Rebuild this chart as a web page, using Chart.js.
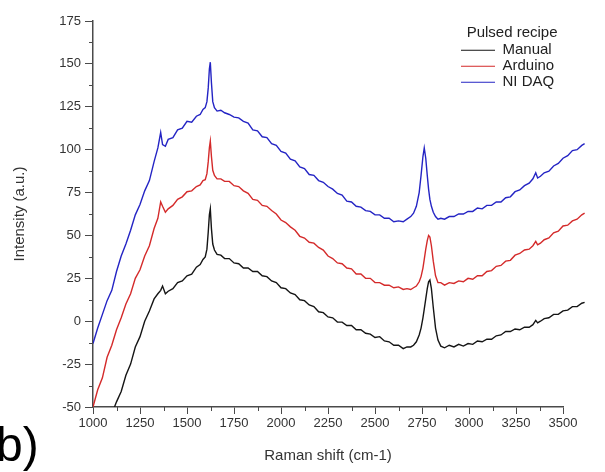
<!DOCTYPE html>
<html><head><meta charset="utf-8">
<script src="https://cdn.jsdelivr.net/npm/chart.js@4/dist/chart.umd.min.js"></script>
<style>
html,body{margin:0;padding:0;background:#fff;}
#wrap{position:relative;width:605px;height:472px;overflow:hidden;}
#panel{position:absolute;left:-4px;top:421px;font:48px "Liberation Sans",Arial,sans-serif;color:#000;line-height:1;}
</style></head><body>
<div id="wrap"><canvas id="c" width="605" height="472"></canvas><div id="panel">b)</div></div>
<script>
// Raman shift (cm-1), shared by the three spectra
const ramanShift = [
  1000,1025,1050,1075,1100,1125,1150,1175,1200,1225,
  1250,1275,1300,1325,1345,1360,1370,1385,1400,1425,
  1450,1475,1500,1525,1550,1570,1585,1597,1606,1613,
  1619,1624,1630,1637,1646,1660,1680,1700,1725,1750,
  1775,1800,1825,1850,1875,1900,1925,1950,1975,2000,
  2025,2050,2075,2100,2125,2150,2175,2200,2225,2250,
  2275,2300,2325,2350,2375,2400,2425,2450,2475,2500,
  2525,2550,2575,2600,2625,2650,2670,2690,2705,2720,
  2735,2745,2755,2762,2770,2778,2785,2792,2800,2810,
  2822,2835,2850,2870,2895,2920,2945,2970,2995,3020,
  3045,3070,3095,3120,3145,3170,3195,3220,3245,3270,
  3295,3320,3340,3355,3365,3380,3400,3425,3450,3475,
  3500,3525,3550,3575,3600,3615
];
// Intensity (a.u.) — Manual
const manual = [
  null,null,null,null,-54,-47,-41,-31.5,-25,-15,
  -9,0,6,13,16,18,20.5,16,17.5,19,
  22.5,23.5,26.5,27.5,31.5,33,36,37.5,42,52,
  62,65.5,54,45,41.5,39,38.5,36.5,36.5,34,
  33.5,31,31,29,29,26.5,26,23.5,22.5,19.5,
  19,16.5,15.5,12.5,12,9.5,8.5,5.5,5,2.5,
  2,-0.5,-0.5,-2.5,-2.5,-5,-5,-7,-7.5,-9.5,
  -9,-11.5,-12,-14,-14,-16,-15,-15,-14,-12,
  -8,-4,2,7,13,19,23,24,19,8,
  -4,-11,-14.5,-15.5,-14,-15,-13.5,-14.5,-13,-13.5,
  -11.5,-12,-10.5,-10.5,-8.5,-8,-6,-6,-4.5,-5,
  -3.5,-3.5,-2,0.5,-1,0,1.5,2,4,4,
  6,6.5,8.5,8.5,10.5,11
];
// Intensity (a.u.) — Arduino
const arduino = [
  -50,-40,-33,-21,-14,-5,2,10,16,25,
  30,38,44,54,60,69.5,67,63.5,65.5,67.5,
  71,72.5,75.5,76,78.5,79.5,82,82.5,86,93,
  101,105,96,88,85,83,83,81.5,81.5,79,
  78.5,76,74.5,71,70.5,67.5,67,64.5,62.5,59,
  57.5,55,53,49.5,48.5,46,45.5,43,41.5,38,
  36.5,34,33.5,31,30.5,27.5,27.5,25,25,22.5,
  22.5,21,21,19.5,20,18.5,19,18.5,19.5,20.5,
  23,26,31,36,42,47,50,49,44,35,
  26.5,22.5,22.5,21,22.5,22,23.5,23,25,24.5,
  26.5,26.5,29,29.5,32,32.5,35,35.5,38.5,39.5,
  41.5,42,44,46.5,44.5,45.5,47.5,48.5,51.5,52.5,
  55.5,56,58.5,59.5,62,63
];
// Intensity (a.u.) — NI DAQ
const niDaq = [
  -13,-4,4,12,18,29,38,45,53,62,
  68,76,82,93,101,110,103,102,106,107,
  111.5,112.5,116.5,116,119.5,120.5,123.5,124.5,128,136,
  147,151,139,128,124.5,122.5,123,121.5,120.5,119,
  118.5,116.5,115.5,111.5,111,107.5,107,103.5,102.5,99,
  98,94.5,93.5,90,89,85.5,85,82,81,78.5,
  77,74.5,73.5,70,69.5,67,66.5,64.5,64,62,
  62,60,60,58,58.5,58,59.5,61,63,67,
  75,85,96,101,95,85,77,71,67,63.5,
  61,59.5,60,59.5,61,61,62.5,62.5,64,64,
  66,65.5,67.5,67.5,69.5,69.5,72,72.5,75.5,76.5,
  79,80.5,83,86.5,83.5,84.5,86.5,87.5,90.5,92,
  95,96.5,99.5,100,102.5,103.5
];
const seriesNames = ['Manual', 'Arduino', 'NI DAQ'];
const xTicks = [1000,1250,1500,1750,2000,2250,2500,2750,3000,3250,3500];
const yTicks = [-50,-25,0,25,50,75,100,125,150,175];

const toPoints = arr => arr.map((v, i) => ({x: ramanShift[i], y: v}));
const AXIS = '#4a4a4a';
const TXT = '#333333';
const FONT = '"Liberation Sans", Arial, sans-serif';

const minorTicks = {
  id: 'minorTicks',
  afterDraw(chart) {
    const {ctx, chartArea} = chart;
    const x = chart.scales.x, y = chart.scales.y;
    ctx.save();
    ctx.strokeStyle = AXIS;
    ctx.lineWidth = 1;
    ctx.beginPath();
    for (let i = 0; i < xTicks.length - 1; i++) {
      const px = Math.round(x.getPixelForValue((xTicks[i] + xTicks[i + 1]) / 2)) + 0.5;
      ctx.moveTo(px, chartArea.bottom);
      ctx.lineTo(px, chartArea.bottom + 4);
    }
    for (let i = 0; i < yTicks.length - 1; i++) {
      const py = Math.round(y.getPixelForValue((yTicks[i] + yTicks[i + 1]) / 2)) + 0.5;
      ctx.moveTo(chartArea.left, py);
      ctx.lineTo(chartArea.left - 4, py);
    }
    ctx.stroke();
    ctx.restore();
  }
};

const placeLegend = {
  id: 'placeLegend',
  afterLayout(chart) {
    const lg = chart.legend;
    if (!lg) return;
    const w = lg.width, h = lg.height;
    lg.left = 460; lg.right = lg.left + w;
    lg.top = 25; lg.bottom = lg.top + h;
  }
};

new Chart(document.getElementById('c'), {
  type: 'line',
  data: {
    datasets: [
      {label: seriesNames[0], data: toPoints(manual), borderColor: '#151515', backgroundColor: '#151515'},
      {label: seriesNames[1], data: toPoints(arduino), borderColor: '#d42a2a', backgroundColor: '#d42a2a'},
      {label: seriesNames[2], data: toPoints(niDaq), borderColor: '#2424c4', backgroundColor: '#2424c4'}
    ]
  },
  options: {
    responsive: false,
    animation: false,
    devicePixelRatio: 1,
    layout: {padding: {left: 0, top: 21, right: 42, bottom: 0}},
    elements: {
      point: {radius: 0, hoverRadius: 0},
      line: {borderWidth: 1.4, tension: 0}
    },
    datasets: {line: {clip: {left: 0, top: 0, bottom: 0, right: false}, spanGaps: false}},
    scales: {
      x: {
        type: 'linear',
        afterDataLimits: s => { s.min = xTicks[0]; s.max = xTicks[xTicks.length - 1]; },
        afterBuildTicks: s => { s.ticks = xTicks.map(v => ({value: v})); },
        afterFit: s => { s.height = 65; },
        grid: {display: true, drawOnChartArea: false, drawTicks: true, tickLength: 7, color: AXIS, tickColor: AXIS, tickWidth: 1},
        border: {display: true, color: AXIS, width: 1.5},
        ticks: {autoSkip: false, maxRotation: 0, minRotation: 0, padding: 2, color: TXT, font: {family: FONT, size: 13}, callback: v => String(v)},
        title: {display: true, text: 'Raman shift (cm-1)', color: TXT, font: {family: FONT, size: 15}, padding: {top: 0, bottom: 7}}
      },
      y: {
        type: 'linear',
        min: yTicks[0], max: yTicks[yTicks.length - 1],
        afterBuildTicks: s => { s.ticks = yTicks.map(v => ({value: v})); },
        afterFit: s => { s.width = 93; },
        grid: {display: true, drawOnChartArea: false, drawTicks: true, tickLength: 8, color: AXIS, tickColor: AXIS, tickWidth: 1},
        border: {display: true, color: AXIS, width: 1.5},
        ticks: {padding: 4, color: TXT, font: {family: FONT, size: 13}, callback: v => String(v)},
        title: {display: true, text: 'Intensity (a.u.)', color: TXT, font: {family: FONT, size: 15}, padding: {top: 11, bottom: 0}}
      }
    },
    plugins: {
      legend: {
        position: 'chartArea',
        align: 'start',
        title: {display: true, text: 'Pulsed recipe', color: '#222', font: {family: FONT, size: 15, lineHeight: 1.05}, padding: {top: 0, bottom: 1}},
        labels: {
          usePointStyle: true, pointStyle: 'line', pointStyleWidth: 34, boxHeight: 8,
          color: '#222', font: {family: FONT, size: 15, lineHeight: 1.05}, padding: 1
        }
      },
      tooltip: {enabled: false}
    }
  },
  plugins: [minorTicks, placeLegend]
});
</script>
</body></html>
